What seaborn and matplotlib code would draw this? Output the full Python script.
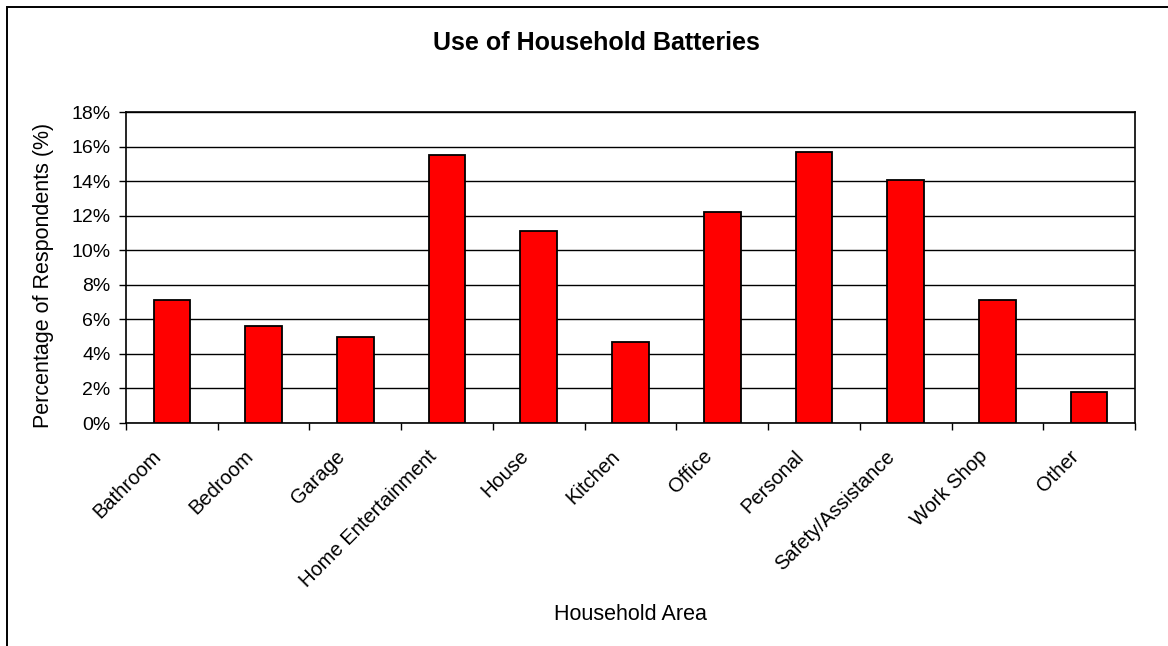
import matplotlib
matplotlib.use("Agg")
import matplotlib.pyplot as plt
from matplotlib.patches import Rectangle
from matplotlib.ticker import FuncFormatter, FixedLocator
from matplotlib.transforms import ScaledTranslation
import seaborn as sns
import pandas as pd

# Share of respondents using household batteries, by area of the home (%)
areas = ["Bathroom", "Bedroom", "Garage", "Home Entertainment", "House",
         "Kitchen", "Office", "Personal", "Safety/Assistance", "Work Shop", "Other"]
percent = [7.1, 5.6, 5.0, 15.5, 11.1, 4.7, 12.2, 15.7, 14.1, 7.1, 1.8]
y_ticks = [0, 2, 4, 6, 8, 10, 12, 14, 16, 18]

df = pd.DataFrame({"area": areas, "percent": percent})

sns.set_theme(style="white")
plt.rcParams["font.family"] = ["Liberation Sans", "DejaVu Sans"]

W, H = 1168, 646
fig = plt.figure(figsize=(W / 100, H / 100), dpi=100)
ax = fig.add_axes([126 / W, 1 - 423 / H, (1135 - 126) / W, (423 - 112.3) / H])

sns.barplot(data=df, x="area", y="percent", color="#FF0000", width=0.4,
            edgecolor="black", linewidth=1.3, saturation=1, ax=ax, zorder=3)

ax.set_xlim(-0.5, len(areas) - 0.5)
ax.set_ylim(0, 18)
ax.set_yticks(y_ticks)
ax.yaxis.set_major_formatter(FuncFormatter(lambda v, p: f"{v:.0f}%"))
ax.grid(axis="y", color="black", linewidth=1.0, zorder=0)
ax.set_axisbelow(True)

for s in ax.spines.values():
    s.set_visible(True)
    s.set_color("black")
    s.set_linewidth(1.2)

# category labels at bar centres, tick marks on category boundaries
ax.set_xticks(range(len(areas)))
ax.set_xticklabels(areas, rotation=45, ha="right", rotation_mode="anchor",
                   fontsize=14.5, color="black")
ax.tick_params(axis="x", which="major", length=0, pad=17)
shift = ScaledTranslation(-20 / 100, 0, fig.dpi_scale_trans)
for lbl in ax.get_xticklabels():
    lbl.set_transform(lbl.get_transform() + shift)
ax.xaxis.set_minor_locator(FixedLocator([i - 0.5 for i in range(len(areas) + 1)]))
ax.tick_params(axis="x", which="minor", bottom=True, length=5, width=1, color="black")
ax.tick_params(axis="y", left=True, length=5, width=1, color="black",
               labelsize=14, labelcolor="black", pad=6)

ax.set_xlabel("")
ax.set_ylabel("")
fig.text(44 / W, 1 - 275 / H, "Percentage of Respondents (%)", rotation=90,
         ha="center", va="center", fontsize=15.5, color="black")
fig.text(630 / W, 1 - 615 / H, "Household Area", ha="center", va="center",
         fontsize=15.5, color="black")
fig.text(596 / W, 1 - 43.5 / H, "Use of Household Batteries", ha="center",
         va="center", fontsize=18, fontweight="bold", color="black")

# outer chart frame
fig.patches.append(Rectangle((7 / W, -0.05), 1.2, 1 - 7 / H + 0.05,
                             transform=fig.transFigure, fill=False,
                             edgecolor="black", linewidth=1.4))

fig.savefig("out.png", dpi=100, facecolor="white")
